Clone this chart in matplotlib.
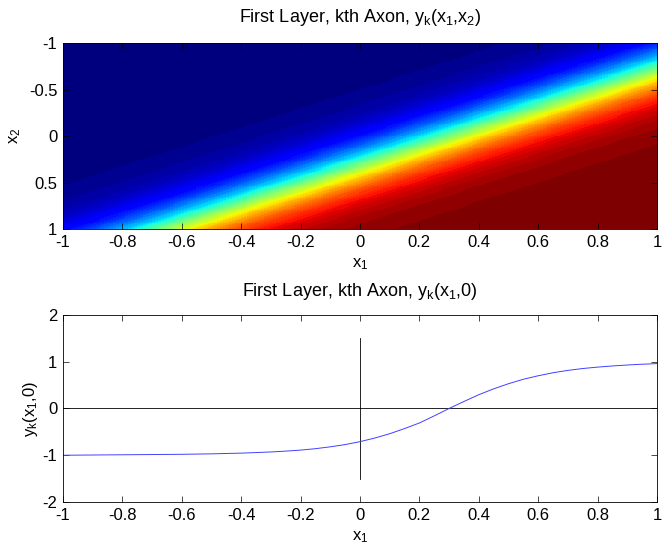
import numpy as np
import matplotlib
matplotlib.use('Agg')
import matplotlib.pyplot as plt
from matplotlib import rcParams

rcParams['font.family'] = ['Liberation Sans', 'DejaVu Sans']
rcParams['mathtext.default'] = 'regular'
rcParams['axes.unicode_minus'] = False
rcParams['font.size'] = 12

# profile of the axon output along x1 at x2 = 0
x1_vals = [-1.0, -0.9, -0.8, -0.7, -0.6, -0.5, -0.4, -0.3, -0.25, -0.2, -0.15, -0.1, -0.05,
           0.0, 0.05, 0.1, 0.15, 0.2, 0.25, 0.3, 0.35, 0.4, 0.45, 0.5, 0.55,
           0.6, 0.65, 0.7, 0.75, 0.8, 0.85, 0.9, 0.95, 1.0]
yk_vals = [-1.00, -0.995, -0.99, -0.985, -0.98, -0.97, -0.955, -0.93, -0.912, -0.89, -0.86, -0.82, -0.772,
           -0.71, -0.632, -0.54, -0.43, -0.31, -0.158, 0.00, 0.15, 0.295, 0.42, 0.53, 0.625,
           0.70, 0.765, 0.815, 0.855, 0.885, 0.91, 0.93, 0.947, 0.96]

# saturated ends, needed for the 2-D map where x1 + x2 leaves [-1, 1]
ext_lo_u = [-2.0, -1.5]
ext_lo_y = [-1.0, -1.0]
ext_hi_u = [1.2, 1.5, 2.0]
ext_hi_y = [0.98, 0.99, 1.0]

# iso-lines in the upper map run along x1 + X2_WEIGHT * x2 = const
X2_WEIGHT = 0.97

x1_ticks = [-1, -0.8, -0.6, -0.4, -0.2, 0, 0.2, 0.4, 0.6, 0.8, 1]
x1_ticklabels = ['-1', '-0.8', '-0.6', '-0.4', '-0.2', '0', '0.2', '0.4', '0.6', '0.8', '1']
x2_ticks = [-1, -0.5, 0, 0.5, 1]
x2_ticklabels = ['-1', '-0.5', '0', '0.5', '1']
y_ticks = [-2, -1, 0, 1, 2]
y_ticklabels = ['-2', '-1', '0', '1', '2']

u_all = np.array(ext_lo_u + x1_vals + ext_hi_u)
g_all = np.array(ext_lo_y + yk_vals + ext_hi_y)

grid = np.linspace(-1, 1, 201)
G1, G2 = np.meshgrid(grid, grid)
field = np.interp(G1 + X2_WEIGHT * G2, u_all, g_all)

fig = plt.figure(figsize=(6.62, 5.46), dpi=100)

def style_axes(ax):
    ax.tick_params(direction='in', top=True, right=True, length=4, width=0.5,
                   labelsize=12, pad=4)
    for s in ax.spines.values():
        s.set_linewidth(0.6)

# ---- upper: 2-D map ----
ax1 = fig.add_axes([0.095, 0.5806, 0.8975, 0.3406])
ax1.imshow(field, cmap=plt.get_cmap('jet', 64), vmin=-1, vmax=1,
           extent=[-1, 1, 1, -1], aspect='auto', interpolation='nearest')
ax1.set_xlim(-1, 1)
ax1.set_ylim(1, -1)
ax1.set_xticks(x1_ticks)
ax1.set_xticklabels(x1_ticklabels)
ax1.set_yticks(x2_ticks)
ax1.set_yticklabels(x2_ticklabels)
ax1.set_xlabel('x$_1$', labelpad=5)
ax1.set_ylabel('x$_2$', labelpad=4)
ax1.set_title('First Layer, kth Axon, y$_k$(x$_1$,x$_2$)', fontsize=13, pad=15)
style_axes(ax1)

# ---- lower: slice at x2 = 0 ----
ax2 = fig.add_axes([0.095, 0.0806, 0.8975, 0.3425])
ax2.axhline(0, color='black', linewidth=0.6)
ax2.plot([0, 0], [-1.5, 1.5], color='black', linewidth=0.6)
ax2.plot(x1_vals, yk_vals, color='#4040ff', linewidth=0.7)
ax2.set_xlim(-1, 1)
ax2.set_ylim(-2, 2)
ax2.set_xticks(x1_ticks)
ax2.set_xticklabels(x1_ticklabels)
ax2.set_yticks(y_ticks)
ax2.set_yticklabels(y_ticklabels)
ax2.set_xlabel('x$_1$', labelpad=5)
ax2.set_ylabel('y$_k$(x$_1$,0)', labelpad=2)
ax2.set_title('First Layer, kth Axon, y$_k$(x$_1$,0)', fontsize=13, pad=14)
style_axes(ax2)

fig.savefig('out.png', dpi=100)
